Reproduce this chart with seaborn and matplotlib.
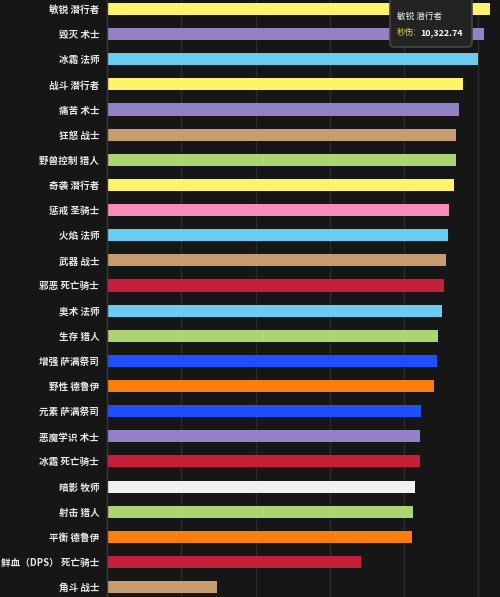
import matplotlib
matplotlib.use("Agg")
import matplotlib.pyplot as plt
import seaborn as sns
import pandas as pd
from matplotlib.patches import FancyBboxPatch

specs = ["敏锐 潜行者", "毁灭 术士", "冰霜 法师", "战斗 潜行者", "痛苦 术士", "狂怒 战士",
         "野兽控制 猎人", "奇袭 潜行者", "惩戒 圣骑士", "火焰 法师", "武器 战士", "邪恶 死亡骑士",
         "奥术 法师", "生存 猎人", "增强 萨满祭司", "野性 德鲁伊", "元素 萨满祭司", "恶魔学识 术士",
         "冰霜 死亡骑士", "暗影 牧师", "射击 猎人", "平衡 德鲁伊", "鲜血（DPS） 死亡骑士", "角斗 战士"]
dps = [10322.74, 10150, 10005, 9585, 9493, 9404,
       9395, 9350, 9207, 9188, 9142, 9072,
       9018, 8927, 8883, 8811, 8460, 8433,
       8430, 8290, 8244, 8217, 6842, 2958]
colors = ["#FFF468", "#9482C9", "#69CCF0", "#FFF468", "#9482C9", "#C79C6E",
          "#ABD473", "#FFF468", "#F58CBA", "#69CCF0", "#C79C6E", "#C41F3B",
          "#69CCF0", "#ABD473", "#1F4EFF", "#FF7D0A", "#1F4EFF", "#9482C9",
          "#C41F3B", "#F0F0F0", "#ABD473", "#FF7D0A", "#C41F3B", "#C79C6E"]
tooltip_title = "敏锐 潜行者"
tooltip_label = "秒伤:"
tooltip_value = "10,322.74"

BG = "#161616"
sns.set_theme(style="dark")
plt.rcParams['font.family'] = ['Noto Sans CJK SC', 'DejaVu Sans']

W, H = 500, 597
fig = plt.figure(figsize=(W / 100, H / 100), dpi=100, facecolor=BG)
ax_left = 107.3 / W
ax_top_px = -3.6
ax_bot_px = 599.7
ax = fig.add_axes([ax_left, 1 - ax_bot_px / H, 1 - ax_left, (ax_bot_px - ax_top_px) / H])
ax.set_facecolor(BG)

df = pd.DataFrame({"spec": specs, "dps": dps})
sns.barplot(data=df, x="dps", y="spec", hue="spec", palette=colors, legend=False,
            width=0.48, orient="h", ax=ax, edgecolor="none", linewidth=0, saturation=1)

xmax = (W - 107.3) / 0.03708
ax.set_xlim(0, xmax)
ax.set_ylim(len(specs) - 0.5, -0.5)
ax.set_xticks([2000, 4000, 6000, 8000, 10000])
ax.grid(axis="x", color="#2c2c2c", linewidth=1)
ax.grid(axis="y", visible=False)
ax.set_axisbelow(True)
ax.tick_params(axis="x", bottom=False, labelbottom=False)
ax.tick_params(axis="y", left=False, length=0, pad=5.8, labelsize=6.9, labelcolor="#e8e8e8")
for lbl in ax.get_yticklabels():
    lbl.set_fontweight("bold")
ax.set_xlabel("")
ax.set_ylabel("")
for s in ["top", "right", "bottom"]:
    ax.spines[s].set_visible(False)
ax.spines["left"].set_color("#3a3a3a")
ax.spines["left"].set_linewidth(1)

# tooltip
x0, x1, y0, y1 = 390 / W, 472 / W, 1 - 47 / H, 1 + 4 / H
box = FancyBboxPatch((x0, y0), x1 - x0, y1 - y0, boxstyle="round,pad=0,rounding_size=0.008",
                     transform=fig.transFigure, facecolor="#232323", edgecolor="#454545",
                     linewidth=1.2, zorder=10)
fig.patches.append(box)
fig.text(397 / W, 1 - 16.5 / H, tooltip_title, color="#eeeeee", fontsize=6.2,
         va="center", ha="left", zorder=11)
fig.text(397 / W, 1 - 32.5 / H, tooltip_label, color="#e8d44d", fontsize=6.2,
         va="center", ha="left", zorder=11)
fig.text(420 / W, 1 - 32.5 / H, tooltip_value, color="#ffffff", fontsize=6.4,
         fontweight="bold", va="center", ha="left", zorder=11)

fig.savefig("out.png", dpi=100, facecolor=BG)
